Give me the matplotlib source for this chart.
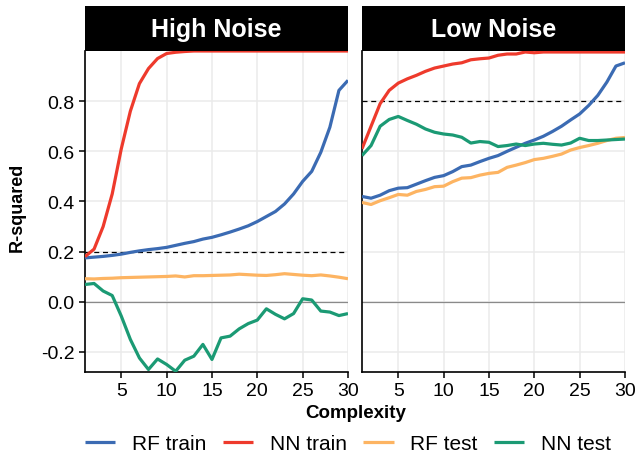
import numpy as np
import matplotlib
matplotlib.use("Agg")
from matplotlib import pyplot as plt

plt.rcParams['font.family'] = ['Liberation Sans', 'DejaVu Sans']

complexity = np.arange(1, 31)

# High Noise
rf_train_high = [0.175, 0.178, 0.181, 0.185, 0.19, 0.197, 0.203, 0.208, 0.212, 0.217,
                 0.225, 0.233, 0.24, 0.25, 0.257, 0.267, 0.278, 0.29, 0.303, 0.32,
                 0.34, 0.36, 0.39, 0.43, 0.48, 0.52, 0.596, 0.696, 0.843, 0.883]
nn_train_high = [0.18, 0.21, 0.30, 0.43, 0.61, 0.76, 0.87, 0.93, 0.97, 0.99,
                 0.995, 0.998, 1.0, 1.0, 1.0, 1.0, 1.0, 1.0, 1.0, 1.0,
                 1.0, 1.0, 1.0, 1.0, 1.0, 1.0, 1.0, 1.0, 1.0, 1.0]
rf_test_high = [0.092, 0.091, 0.093, 0.094, 0.096, 0.097, 0.098, 0.099, 0.100, 0.101,
                0.103, 0.099, 0.104, 0.104, 0.105, 0.106, 0.107, 0.110, 0.108, 0.106,
                0.105, 0.108, 0.112, 0.109, 0.106, 0.104, 0.107, 0.103, 0.098, 0.092]
nn_test_high = [0.069, 0.073, 0.043, 0.025, -0.057, -0.15, -0.224, -0.27, -0.228, -0.25,
                -0.277, -0.233, -0.217, -0.17, -0.23, -0.144, -0.137, -0.108, -0.087, -0.073,
                -0.028, -0.05, -0.068, -0.047, 0.012, 0.007, -0.037, -0.041, -0.055, -0.047]

# Low Noise
rf_train_low = [0.42, 0.413, 0.425, 0.443, 0.453, 0.455, 0.469, 0.483, 0.496, 0.503,
                0.519, 0.539, 0.545, 0.559, 0.572, 0.583, 0.6, 0.616, 0.632, 0.645,
                0.66, 0.679, 0.7, 0.725, 0.749, 0.783, 0.823, 0.876, 0.94, 0.953]
nn_train_low = [0.61, 0.70, 0.79, 0.843, 0.872, 0.889, 0.903, 0.919, 0.932, 0.94,
                0.948, 0.953, 0.965, 0.969, 0.972, 0.983, 0.988, 0.988, 0.996, 0.993,
                0.996, 0.996, 0.996, 0.996, 0.996, 0.996, 0.996, 0.996, 0.996, 0.996]
rf_test_low = [0.396, 0.388, 0.403, 0.415, 0.428, 0.425, 0.44, 0.448, 0.459, 0.461,
               0.479, 0.493, 0.495, 0.505, 0.512, 0.516, 0.536, 0.545, 0.555, 0.567,
               0.572, 0.58, 0.589, 0.605, 0.615, 0.623, 0.632, 0.643, 0.652, 0.655]
nn_test_low = [0.583, 0.623, 0.70, 0.727, 0.739, 0.723, 0.708, 0.689, 0.676, 0.669,
               0.665, 0.656, 0.633, 0.639, 0.636, 0.619, 0.623, 0.629, 0.623, 0.629,
               0.632, 0.628, 0.625, 0.633, 0.652, 0.643, 0.643, 0.645, 0.647, 0.649]

panels = ['High Noise', 'Low Noise']
thresholds = [0.2, 0.8]
series_names = ['RF train', 'NN train', 'RF test', 'NN test']
colors = ['#3B6BB3', '#EE3A2C', '#FDB462', '#1B9A74']
data = [[rf_train_high, nn_train_high, rf_test_high, nn_test_high],
        [rf_train_low, nn_train_low, rf_test_low, nn_test_low]]

fig = plt.figure(figsize=(6.38, 4.56), dpi=100)
lefts = [85 / 638, 362 / 638]
width = 263 / 638
bottom = (456 - 373) / 456
height = (373 - 52) / 456
strip_h = 45 / 456

for i, name in enumerate(panels):
    ax = fig.add_axes([lefts[i], bottom, width, height])
    for s, c, y in zip(series_names, colors, data[i]):
        ax.plot(complexity, y, color=c, lw=2.3, label=s, solid_capstyle='butt', zorder=3)
    ax.axhline(0, color='#8a8a8a', lw=0.9, zorder=2)
    ax.axhline(thresholds[i], color='black', lw=0.9, ls=(0, (4, 3)), zorder=2)
    ax.set_xlim(1, 30)
    ax.set_ylim(-0.28, 1.0)
    ax.set_xticks([5, 10, 15, 20, 25, 30])
    ax.set_yticks([-0.2, 0.0, 0.2, 0.4, 0.6, 0.8])
    ax.grid(color='#ebebeb', lw=1.1, zorder=0)
    ax.set_axisbelow(True)
    for sp in ['top', 'right']:
        ax.spines[sp].set_visible(False)
    for sp in ['left', 'bottom']:
        ax.spines[sp].set_linewidth(1.2)
    ax.tick_params(axis='both', labelsize=14, length=4.5, width=1.1, pad=3,
                   color='black', labelcolor='black')
    if i == 0:
        ax.set_yticklabels(['-0.2', '0.0', '0.2', '0.4', '0.6', '0.8'])
        handles, labels = ax.get_legend_handles_labels()
    else:
        ax.tick_params(axis='y', length=0, labelleft=False)
    # strip
    sax = fig.add_axes([lefts[i], bottom + height, width, strip_h])
    sax.set_facecolor('black')
    sax.set_xticks([])
    sax.set_yticks([])
    for sp in sax.spines.values():
        sp.set_visible(False)
    sax.text(0.5, 0.48, name, color='white', fontsize=18, fontweight='bold',
             ha='center', va='center', transform=sax.transAxes)

fig.text(355.5 / 638, 1 - 414 / 456, 'Complexity', fontsize=13.5, fontweight='bold',
         ha='center', va='center')
fig.text(17.5 / 638, 1 - 207 / 456, 'R-squared', fontsize=13, fontweight='bold',
         ha='center', va='center', rotation=90)
fig.legend(handles, labels, loc='center', bbox_to_anchor=(348 / 638, 1 - 445 / 456), ncol=4,
           frameon=False, fontsize=15, handlelength=1.45, handletextpad=0.8,
           columnspacing=0.8)

plt.savefig('out.png', dpi=100)
plt.close()
